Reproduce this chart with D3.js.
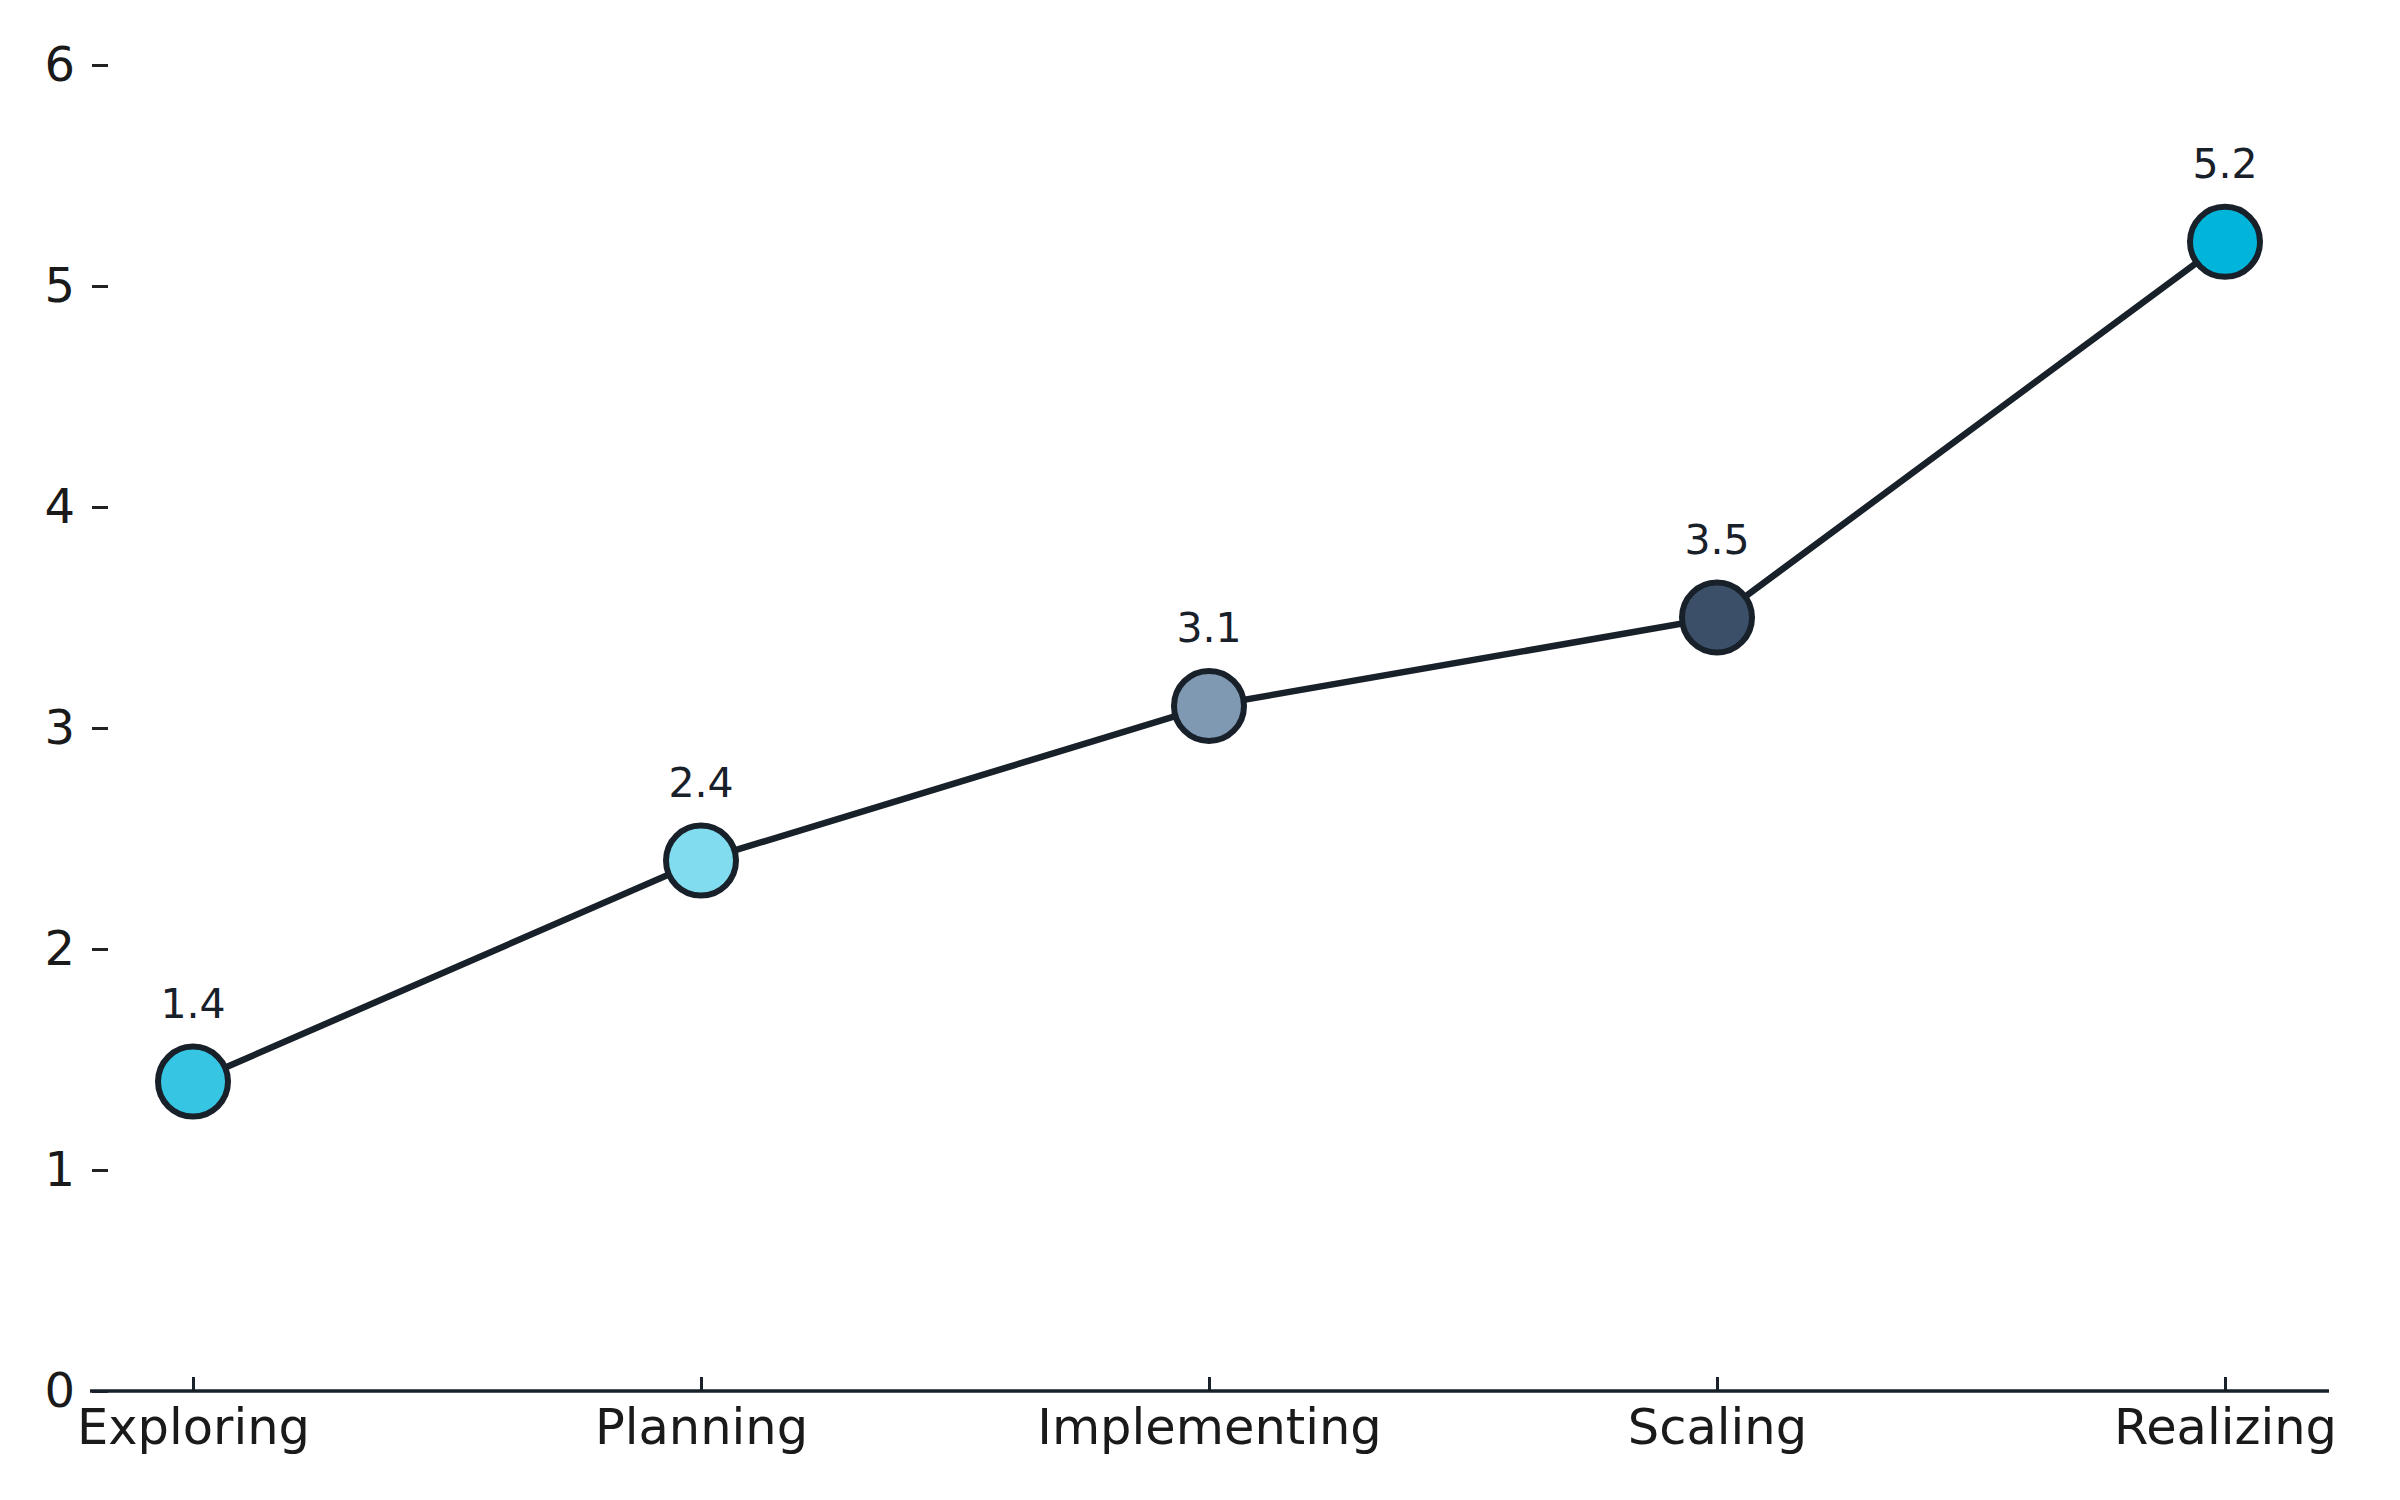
<!DOCTYPE html>
<html>
<head>
<meta charset="utf-8">
<script src="https://cdn.jsdelivr.net/npm/d3@7"></script>
<style>
  html, body { margin: 0; padding: 0; background: #ffffff; }
  svg { display: block; }
</style>
</head>
<body>
<svg id="chart" width="2400" height="1500"></svg>
<script>
const categories = ["Exploring", "Planning", "Implementing", "Scaling", "Realizing"];
const values = [1.4, 2.4, 3.1, 3.5, 5.2];
const pointColors = ["#36c6e3", "#80dcee", "#7f99b3", "#3b5068", "#00b5d9"];
const yTicks = [0, 1, 2, 3, 4, 5, 6];

(function () {
const svg = d3.select("#chart");
const dark = "#18202a";
const font = "DejaVu Sans, sans-serif";

const mLeft = 90, mRight = 2329, mTop = 65, mBottom = 1391;

const x = d3.scalePoint().domain(categories).range([193, 2225]);
const y = d3.scaleLinear().domain([0, 6]).range([mBottom, mTop]);

// y axis (ticks only, no domain line)
const yAxis = svg.append("g")
  .attr("transform", `translate(108,0)`)
  .call(d3.axisLeft(y).tickValues(yTicks).tickFormat(d3.format("d")).tickSize(16).tickPadding(17));
yAxis.select(".domain").remove();
yAxis.selectAll(".tick line").attr("stroke", "#222").attr("stroke-width", 3);
yAxis.selectAll(".tick text").attr("font-family", font).attr("font-size", 48).attr("fill", "#1a1a1a");

// x axis
const xAxis = svg.append("g")
  .attr("transform", `translate(0,${mBottom})`)
  .call(d3.axisBottom(x).tickSize(0).tickPadding(18));
xAxis.select(".domain").remove();
xAxis.selectAll(".tick text").attr("font-family", font).attr("font-size", 49.5).attr("fill", "#1a1a1a");
xAxis.selectAll(".tick").append("line")
  .attr("y1", 0).attr("y2", -14).attr("stroke", dark).attr("stroke-width", 3);
svg.append("line")
  .attr("x1", mLeft).attr("x2", mRight).attr("y1", mBottom).attr("y2", mBottom)
  .attr("stroke", dark).attr("stroke-width", 3.5);

const data = categories.map((c, i) => ({ c, v: values[i], color: pointColors[i] }));

svg.append("path")
  .datum(data)
  .attr("fill", "none")
  .attr("stroke", dark)
  .attr("stroke-width", 6.5)
  .attr("d", d3.line().x(d => x(d.c)).y(d => y(d.v)));

svg.selectAll("circle.pt")
  .data(data)
  .enter().append("circle")
  .attr("class", "pt")
  .attr("cx", d => x(d.c))
  .attr("cy", d => y(d.v))
  .attr("r", 35)
  .attr("fill", d => d.color)
  .attr("stroke", dark)
  .attr("stroke-width", 6);

svg.selectAll("text.val")
  .data(data)
  .enter().append("text")
  .attr("class", "val")
  .attr("x", d => x(d.c))
  .attr("y", d => y(d.v) - 64)
  .attr("text-anchor", "middle")
  .attr("font-family", font)
  .attr("font-size", 41)
  .attr("fill", dark)
  .text(d => d.v.toFixed(1));
})();
</script>
</body>
</html>
